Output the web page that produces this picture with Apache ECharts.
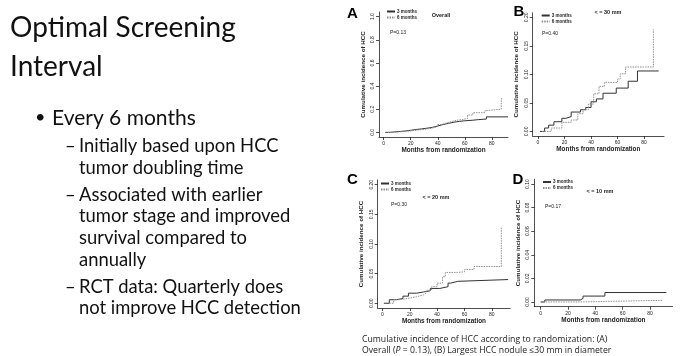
<!DOCTYPE html>
<html><head><meta charset="utf-8">
<script src="https://cdn.jsdelivr.net/npm/echarts@6/dist/echarts.min.js"></script>
<style>html,body{margin:0;padding:0;background:#fff}#c{width:689px;height:356px}</style>
</head><body><div id="c"></div>
<script>
// ---- data (months, cumulative incidence) ----
const seriesNames = ['3 months', '6 months'];
const xTicks = [0, 20, 40, 60, 80];
const yTicksA = [0, 0.2, 0.4, 0.6, 0.8, 1.0];
const yTicksBC = [0, 0.05, 0.10, 0.15, 0.20];
const yTicksD = [0, 0.02, 0.04, 0.06, 0.08, 0.10];

const overall3 = [[1,0],[4,0.004],[8,0.008],[12,0.012],[16,0.018],[20,0.025],[24,0.030],[28,0.036],[32,0.043],[36,0.055],[40,0.068],[44,0.078],[48,0.088],[52,0.095],[56,0.100],[60,0.105],[66,0.110],[70,0.115],[76,0.134],[92,0.134]];
const overall6 = [[1,0],[6,0.003],[10,0.008],[15,0.013],[20,0.020],[25,0.026],[30,0.035],[35,0.050],[40,0.068],[43,0.080],[46,0.092],[50,0.105],[54,0.110],[58,0.120],[62,0.150],[66,0.170],[75,0.190],[78,0.200],[87,0.290],[88,0.290]];
const le30_3 = [[1.5,0],[5,0.006],[8,0.011],[12,0.017],[18,0.023],[21,0.026],[25,0.034],[32,0.038],[36,0.042],[40,0.052],[44,0.057],[49,0.067],[59,0.076],[68,0.088],[75,0.106],[91,0.106]];
const le30_6 = [[3,0],[10,0.006],[18,0.016],[25,0.020],[30,0.031],[34,0.038],[38,0.048],[42,0.066],[46,0.079],[50,0.086],[60,0.092],[62,0.101],[66,0.113],[87,0.179]];
const le20_3 = [[1,0],[5,0.006],[10,0.008],[15,0.012],[19,0.017],[25,0.019],[30,0.021],[35,0.025],[42,0.028],[48,0.034],[50,0.037],[55,0.040],[92,0.040]];
const le20_6 = [[5,0],[8,0.006],[12,0.008],[18,0.011],[25,0.014],[30,0.017],[32,0.022],[36,0.028],[40,0.034],[44,0.045],[46,0.052],[55,0.053],[60,0.057],[67,0.062],[87,0.129]];
const le10_3 = [[0,0],[3,0.0017],[29,0.003],[31,0.005],[47,0.008],[92,0.008]];
const le10_6 = [[0,0],[28,0.0014],[89,0.0014]];

const panelLetters = ['A','B','C','D'];
const panelTitles = ['Overall','< = 30 mm','< = 20 mm','< = 10 mm'];
const pValues = ['P=0.13','P=0.40','P=0.30','P=0.17'];

// ---- layout ----
const grids = [
  {left:379, top:12, width:129, height:125},
  {left:532.7, top:12.8, width:131.3, height:123.2},
  {left:377.7, top:180, width:132.5, height:128},
  {left:534.3, top:179.3, width:138.2, height:127.4}
];
const xRanges = [[-3.5,92],[-4,95],[-3.5,93.5],[-4.7,96.5]];
const yRanges = [[-0.04,1.04],[-0.008,0.208],[-0.008,0.208],[-0.004,0.104]];
const yTicks = [yTicksA, yTicksBC, yTicksBC, yTicksD];
const yDigits = [1,2,2,2];
const data3 = [overall3, le30_3, le20_3, le10_3];
const data6 = [overall6, le30_6, le20_6, le10_6];

const axisCol = '#222';
const F = 'Liberation Sans, Arial, sans-serif';

const xAxis = [], yAxis = [], series = [], legend = [];
grids.forEach((g, i) => {
  xAxis.push({
    type:'value', gridIndex:i, min:xRanges[i][0], max:xRanges[i][1],
    name:'Months from randomization', nameLocation:'middle', nameGap:10,
    nameTextStyle:{fontSize:6.4, fontWeight:'bold', color:'#222', fontFamily:F},
    axisLine:{show:true, onZero:false, lineStyle:{color:axisCol, width:0.8}},
    axisTick:{show:true, length:3, customValues:xTicks, lineStyle:{color:axisCol, width:0.8}},
    axisLabel:{show:true, fontSize:5, color:'#222', margin:4.5, fontFamily:F, customValues:xTicks},
    splitLine:{show:false}
  });
  yAxis.push({
    type:'value', gridIndex:i, min:yRanges[i][0], max:yRanges[i][1],
    name:'Cumulative incidence of HCC', nameLocation:'middle', nameGap:13,
    nameTextStyle:{fontSize:6.2, fontWeight:'bold', color:'#222', fontFamily:F},
    axisLine:{show:true, onZero:false, lineStyle:{color:axisCol, width:0.8}},
    axisTick:{show:true, length:3, customValues:yTicks[i], lineStyle:{color:axisCol, width:0.8}},
    axisLabel:{show:true, fontSize:5, color:'#222', margin:4, rotate:90, fontFamily:F,
      customValues:yTicks[i], formatter:v => v.toFixed(yDigits[i])},
    splitLine:{show:false}
  });
  series.push({
    name:seriesNames[0], type:'line', xAxisIndex:i, yAxisIndex:i, step:'end',
    data:data3[i], showSymbol:false, symbol:'none', silent:true,
    lineStyle:{color:'#333', width:1, type:'solid'}, itemStyle:{color:'#333'}
  });
  series.push({
    name:seriesNames[1], type:'line', xAxisIndex:i, yAxisIndex:i, step:'end',
    data:data6[i], showSymbol:false, symbol:'none', silent:true,
    lineStyle:{color:'#8f8f8f', width:1, type:[1.5,1]}, itemStyle:{color:'#8f8f8f'}
  });
});

const legendPos = [[386,9],[540.7,13],[380,181],[542,179.5]];
legendPos.forEach(p => legend.push({
  left:p[0], top:p[1], orient:'vertical', itemWidth:8, itemHeight:5, itemGap:1,
  padding:0, selectedMode:false, data:seriesNames,
  itemStyle:{opacity:0},
  textStyle:{fontSize:4.5, color:'#222', fontWeight:'bold', fontFamily:F, padding:[0,0,0,-3]}
}));

const graphic = [];
const letterPos = [[352.5,14],[519,12],[352.5,180],[518,180]];
const titlePos = [[441,15],[608,12.3],[436,197.7],[600,191.7]];
const pPos = [[398,32.7],[550,33.3],[399,204.3],[553,206.7]];
for (let i = 0; i < 4; i++) {
  graphic.push({type:'text', x:letterPos[i][0], y:letterPos[i][1], style:{text:panelLetters[i], fontSize:15, fontWeight:'bold', fontFamily:F, fill:'#000', align:'center', verticalAlign:'middle'}});
  graphic.push({type:'text', x:titlePos[i][0], y:titlePos[i][1], style:{text:panelTitles[i], fontSize:5.5, fontWeight:'bold', fontFamily:F, fill:'#222', align:'center', verticalAlign:'middle'}});
  graphic.push({type:'text', x:pPos[i][0], y:pPos[i][1], style:{text:pValues[i], fontSize:5, fontFamily:F, fill:'#222', align:'center', verticalAlign:'middle'}});
}

// slide text
const SF = 'Lato, "Open Sans", sans-serif';
const slideLines = [
  {t:'Optimal Screening', x:10, y:28, s:28},
  {t:'Interval', x:10, y:67, s:28},
  {t:'Every 6 months', x:52, y:118, s:21},
  {t:'Initially based upon HCC', x:79, y:146.5, s:18.4},
  {t:'tumor doubling time', x:79, y:168.5, s:18.4},
  {t:'Associated with earlier', x:79, y:195, s:18.4},
  {t:'tumor stage and improved', x:79, y:216.5, s:18.4},
  {t:'survival compared to', x:79, y:238.5, s:18.4},
  {t:'annually', x:79, y:260, s:18.4},
  {t:'RCT data: Quarterly does', x:79, y:287, s:18.4},
  {t:'not improve HCC detection', x:79, y:308.5, s:18.4}
];
slideLines.forEach(l => graphic.push({type:'text', x:l.x, y:l.y, style:{text:l.t, fontSize:l.s, fontFamily:SF, fill:'#111', align:'left', verticalAlign:'middle'}}));
graphic.push({type:'text', x:35, y:117, style:{text:'•', fontSize:18, fontFamily:SF, fill:'#111', align:'left', verticalAlign:'middle'}});
[146.5, 195, 287].forEach(y => graphic.push({type:'text', x:65, y:y, style:{text:'–', fontSize:18.4, fontFamily:SF, fill:'#111', align:'left', verticalAlign:'middle'}}));

// caption
graphic.push({type:'text', x:362, y:340, style:{text:'Cumulative incidence of HCC according to randomization: (A)', fontSize:8.7, fontFamily:'"Open Sans", sans-serif', fill:'#222', align:'left', verticalAlign:'middle'}});
graphic.push({type:'text', x:362, y:350.5, style:{text:'Overall ({i|P} = 0.13), (B) Largest HCC nodule ≤30 mm in diameter', fontSize:8.7, fontFamily:'"Open Sans", sans-serif', fill:'#222', align:'left', verticalAlign:'middle', rich:{i:{fontStyle:'italic', fontSize:8.7, fontFamily:'"Open Sans", sans-serif', fill:'#222'}}}});

const chart = echarts.init(document.getElementById('c'), null, {renderer:'canvas'});
chart.setOption({
  backgroundColor:'#fff', animation:false,
  grid:grids.map(g => Object.assign({containLabel:false}, g)),
  xAxis, yAxis, series, legend, graphic
});
</script></body></html>
